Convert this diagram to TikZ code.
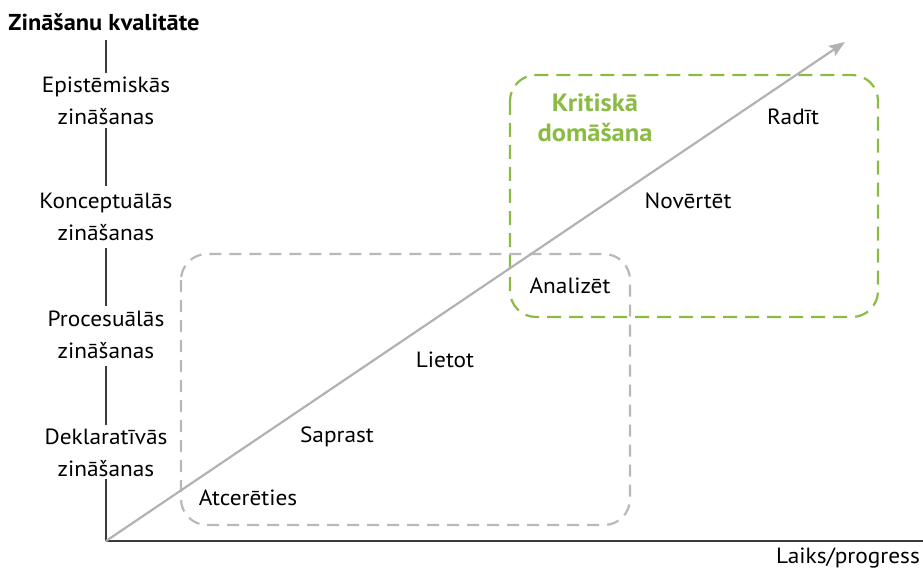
\documentclass[tikz,border=0pt]{standalone}
\usepackage{fontspec}
\setmainfont{PT Sans}[FakeStretch=1.06]
\usetikzlibrary{arrows.meta}
\definecolor{axisgray}{HTML}{3A3A3A}
\definecolor{arrowgray}{HTML}{B2B2B2}
\definecolor{boxgray}{HTML}{B8B8B8}
\definecolor{critgreen}{HTML}{8CBB45}
\begin{document}
\begin{tikzpicture}[x=1pt,y=-1pt,
  every node/.style={font=\fontsize{22}{32}\selectfont, inner sep=1pt},
  level/.style={align=center},
  axisline/.style={draw=axisgray, line width=1.5pt},
  stage/.style={text=black},
  zone/.style={line width=2.2pt, rounded corners=26pt, dash pattern=on 12pt off 8pt},
]
\useasboundingbox (0,0) rectangle (923,572);

% axes
\coordinate (origin) at (106,541);
\coordinate (xend) at (923,541);
\node[font=\fontsize{23}{26}\selectfont\bfseries] (title) at (104,22) {Zināšanu kvalitāte};
\node[level] (epi) at (106,101) {Epistēmiskās\\zināšanas};
\node[level] (kon) at (106,217) {Konceptuālās\\zināšanas};
\node[level] (pro) at (106,335) {Procesuālās\\zināšanas};
\node[level] (dek) at (106,453) {Deklaratīvās\\zināšanas};
\draw[axisline] (origin |- title.south) ++(0,8) -- (origin |- 0,73);
\draw[axisline] (origin |- 0,128) -- (origin |- 0,186);
\draw[axisline] (origin |- 0,248) -- (origin |- 0,306);
\draw[axisline] (origin |- 0,366) -- (origin |- 0,425);
\draw[axisline] (origin |- 0,479) -- (origin);
\draw[axisline] (origin) -- (xend);
\node (xlabel) at (848,558) {Laiks/progress};

% zones
\draw[zone, draw=boxgray] (181,254) rectangle (630,525);
\draw[zone, draw=critgreen, dash pattern=on 14pt off 8pt] (510,75) rectangle (878,317);
\node[text=critgreen, font=\fontsize{25}{30}\selectfont\bfseries, align=center] (crit) at (595,118) {Kritiskā\\domāšana};

% progress arrow
\coordinate (tip) at (845,42);
\draw[arrowgray, line width=2.2pt, -{Stealth[length=16pt,width=12pt,inset=3pt]}] (origin) -- (tip);

% stages
\node[stage] (atc) at (248,498) {Atcerēties};
\node[stage] (sap) at (337,437) {Saprast};
\node[stage] (lie) at (445,360) {Lietot};
\node[stage] (ana) at (570,286) {Analizēt};
\node[stage] (nov) at (688,201) {Novērtēt};
\node[stage] (rad) at (793,117) {Radīt};
\end{tikzpicture}
\end{document}
